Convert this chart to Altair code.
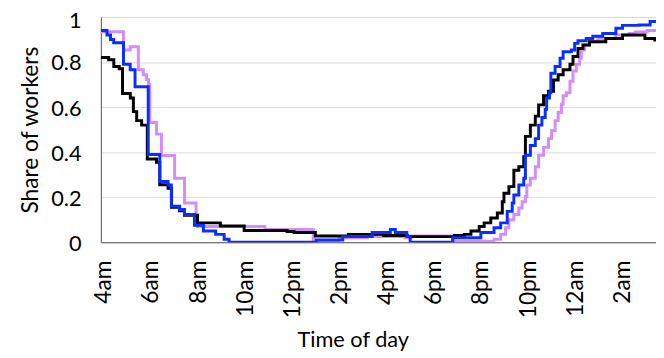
import altair as alt
import pandas as pd

# hours after 4am, share of workers (step changes)
black_h = [0, 0.33, 0.55, 0.78, 0.92, 1.25, 1.38, 1.52, 1.73, 1.97, 2.36, 2.5, 2.85, 3.0, 3.34, 3.55,
           4.1, 5.07, 6.08, 7.9, 8.2, 9.1, 10.5, 12.0, 13.0, 15.0, 15.42, 15.7, 16.05, 16.26, 16.54,
           16.82, 17.03, 17.1, 17.31, 17.52, 17.73, 17.94, 18.01, 18.22, 18.43, 18.57, 18.78, 18.99,
           19.2, 19.4, 19.61, 19.9, 20.03, 20.24, 20.45, 20.73, 21.42, 22.13, 23.08, 23.5, 23.8]
black_v = [0.82, 0.81, 0.78, 0.77, 0.66, 0.64, 0.58, 0.54, 0.52, 0.37, 0.355, 0.255, 0.24, 0.155, 0.14, 0.12,
           0.086, 0.072, 0.052, 0.048, 0.043, 0.028, 0.035, 0.03, 0.025, 0.03, 0.035, 0.05, 0.07, 0.086, 0.108,
           0.13, 0.18, 0.218, 0.247, 0.32, 0.335, 0.38, 0.47, 0.52, 0.56, 0.61, 0.65, 0.67,
           0.72, 0.744, 0.766, 0.79, 0.825, 0.86, 0.876, 0.89, 0.905, 0.92, 0.905, 0.898, 0.898]

blue_h = [0, 0.26, 0.41, 0.545, 0.96, 1.245, 1.45, 2.01, 2.5, 2.85, 2.99, 3.34, 3.55, 3.97, 4.35, 4.87,
          5.23, 5.44, 9.14, 10.26, 11.51, 12.28, 12.49, 12.98, 13.12, 14.93, 16.12, 16.68, 16.96, 17.24,
          17.45, 17.52, 17.73, 17.94, 18.01, 18.22, 18.43, 18.57, 18.71, 18.85, 18.91, 19.03, 19.09,
          19.27, 19.48, 19.61, 19.96, 20.1, 20.24, 20.59, 20.87, 21.29, 21.85, 22.13, 22.83, 23.3, 23.8]
blue_v = [0.94, 0.92, 0.90, 0.886, 0.79, 0.766, 0.69, 0.39, 0.27, 0.254, 0.16, 0.145, 0.123, 0.075, 0.05, 0.035,
          0.013, 0.0, 0.01, 0.025, 0.043, 0.057, 0.043, 0.025, 0.0, 0.02, 0.043, 0.064, 0.086, 0.137,
          0.174, 0.21, 0.254, 0.284, 0.386, 0.43, 0.46, 0.52, 0.554, 0.59, 0.64, 0.664, 0.75,
          0.78, 0.817, 0.846, 0.854, 0.883, 0.895, 0.905, 0.915, 0.927, 0.95, 0.963, 0.965, 0.98, 0.98]

violet_h = [0, 0.96, 1.245, 1.59, 1.8, 1.94, 2.02, 2.08, 2.36, 2.57, 3.13, 3.55, 4.04, 4.1, 6.96, 9.01,
            10.1, 11.3, 12.9, 13.16, 14.92, 16.68, 16.96, 17.17, 17.31, 17.52, 17.73, 17.87, 18.01, 18.07,
            18.22, 18.43, 18.57, 18.78, 18.99, 19.12, 19.27, 19.4, 19.54, 19.61, 19.75, 19.9, 20.03,
            20.17, 20.31, 20.38, 20.52, 20.73, 21.08, 21.84, 22.41, 22.67, 23.18, 23.8]
violet_v = [0.935, 0.854, 0.868, 0.766, 0.744, 0.722, 0.70, 0.532, 0.48, 0.385, 0.284, 0.174, 0.086, 0.07, 0.057, 0.005,
            0.02, 0.025, 0.02, 0.028, 0.005, 0.013, 0.035, 0.064, 0.1, 0.123, 0.152, 0.18, 0.203, 0.254,
            0.284, 0.335, 0.386, 0.422, 0.46, 0.496, 0.54, 0.576, 0.613, 0.65, 0.664, 0.715, 0.76,
            0.79, 0.817, 0.854, 0.876, 0.89, 0.905, 0.92, 0.927, 0.934, 0.94, 0.94]

series_names = ["Violet", "Black", "Blue"]  # drawing order
series_colors = ["#D58CF8", "#000000", "#0A2EFF"]

tick_hours = [0, 2, 4, 6, 8, 10, 12, 14, 16, 18, 20, 22]
tick_labels = ["4am", "6am", "8am", "10am", "12pm", "2pm", "4pm", "6pm", "8pm", "10pm", "12am", "2am"]
y_ticks = [0, 0.2, 0.4, 0.6, 0.8, 1]

frames = {
    "Black": pd.DataFrame({"hour": black_h, "share": black_v}),
    "Blue": pd.DataFrame({"hour": blue_h, "share": blue_v}),
    "Violet": pd.DataFrame({"hour": violet_h, "share": violet_v}),
}
df = pd.concat([f.assign(series=k) for k, f in frames.items()], ignore_index=True)

FONT = "Lato"
label_expr = "[" + ",".join('"%s"' % t for t in tick_labels) + "][round(datum.value/2)]"

x_enc = alt.X(
    "hour:Q",
    scale=alt.Scale(domain=[0, 23.55], nice=False, zero=False),
    axis=alt.Axis(
        values=tick_hours, labelExpr=label_expr, labelAngle=270, labelAlign="right",
        labelBaseline="middle", labelPadding=18, labelOffset=3, ticks=False, grid=False,
        domainColor="#595959", domainWidth=1, labelFont=FONT, labelFontSize=23,
        labelColor="#000000", title="Time of day", titleFont=FONT, titleFontSize=22,
        titleFontWeight="normal", titleColor="#000000", titleX=255, titleY=106,
        titleAlign="center", titleBaseline="alphabetic", labelOverlap=False, labelFlush=False,
    ),
)
y_enc = alt.Y(
    "share:Q",
    scale=alt.Scale(domain=[0, 1], nice=False),
    axis=alt.Axis(
        values=y_ticks, format="~g", ticks=False, grid=True, gridColor="#D9D9D9", gridWidth=1,
        domainColor="#595959", domainWidth=1, labelFont=FONT, labelFontSize=22, labelColor="#000000",
        labelPadding=20,
        labelOffset={"condition": {"test": "datum.value >= 1", "value": 4}, "value": 1},
        title="Share of workers", titleFont=FONT, titleFontSize=23,
        titleFontWeight="normal", titleColor="#000000", titleX=-71, titleY=114,
        titleAngle=270, titleAlign="center", titleBaseline="middle",
    ),
)

layers = []
for name, col in zip(series_names, series_colors):
    layers.append(
        alt.Chart(df[df.series == name])
        .mark_line(interpolate="step-after", color=col, strokeWidth=3, clip=True)
        .encode(x=x_enc, y=y_enc)
    )

chart = (
    alt.layer(*layers)
    .properties(width=562, height=228, autosize=alt.AutoSizeParams(type="none"),
                padding={"left": 94, "top": 7, "right": 0, "bottom": 111})
    .configure_view(strokeWidth=0)
    .configure(background="white")
)

chart.save("out.html", embed_options={"renderer": "svg", "actions": False})
